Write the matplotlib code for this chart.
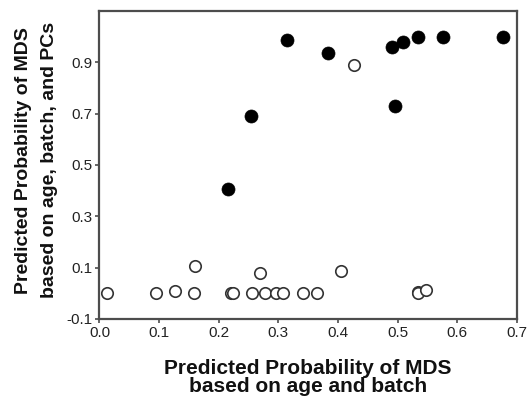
import matplotlib
matplotlib.use("Agg")
import matplotlib.pyplot as plt

# filled points (MDS cases)
case_x = [0.215, 0.255, 0.314, 0.383, 0.490, 0.509, 0.534, 0.576, 0.677, 0.495]
case_y = [0.405, 0.690, 0.986, 0.938, 0.962, 0.979, 1.000, 1.000, 0.998, 0.729]

# open points (controls)
ctrl_x = [0.012, 0.094, 0.127, 0.159, 0.161, 0.221, 0.224, 0.256, 0.270, 0.277,
          0.296, 0.308, 0.342, 0.365, 0.405, 0.427, 0.534, 0.535, 0.548]
ctrl_y = [0.000, 0.000, 0.010, 0.000, 0.106, 0.002, 0.000, 0.000, 0.080, 0.000,
          0.000, 0.000, 0.000, 0.000, 0.088, 0.891, 0.006, 0.000, 0.013]

x_ticks = [0.0, 0.1, 0.2, 0.3, 0.4, 0.5, 0.6, 0.7]
y_ticks = [-0.1, 0.1, 0.3, 0.5, 0.7, 0.9]

plt.rcParams["font.family"] = ["Liberation Sans", "DejaVu Sans"]

fig = plt.figure(figsize=(5.29, 3.99), dpi=100)
ax = fig.add_axes([0.188, 0.201, 0.789, 0.771])

ax.scatter(ctrl_x, ctrl_y, s=68, facecolors="white", edgecolors="#333333",
           linewidths=1.2, zorder=3, clip_on=False)
ax.scatter(case_x, case_y, s=88, color="black", edgecolors="black",
           linewidths=0.5, zorder=4, clip_on=False)

ax.set_xlim(0.0, 0.7)
ax.set_ylim(-0.1, 1.1)
ax.set_xticks(x_ticks)
ax.set_xticklabels([f"{v:.1f}" for v in x_ticks])
ax.set_yticks(y_ticks)
ax.set_yticklabels([f"{v:.1f}" for v in y_ticks])

for sp in ax.spines.values():
    sp.set_color("#4d4d4d")
    sp.set_linewidth(1.6)
ax.tick_params(axis="both", direction="out", length=3, width=1.2, color="#4d4d4d",
               labelsize=11, labelcolor="#222222", pad=2)

ax.set_xlabel("Predicted Probability of MDS\nbased on age and batch",
              fontsize=15, fontweight="bold", color="#111111", labelpad=14,
              linespacing=0.95)
ax.set_ylabel("Predicted Probability of MDS\nbased on age, batch, and PCs",
              fontsize=14, fontweight="bold", color="#111111",
              linespacing=1.65)
ax.yaxis.set_label_coords(-0.1, 0.515)

fig.savefig("out.png", dpi=100)
